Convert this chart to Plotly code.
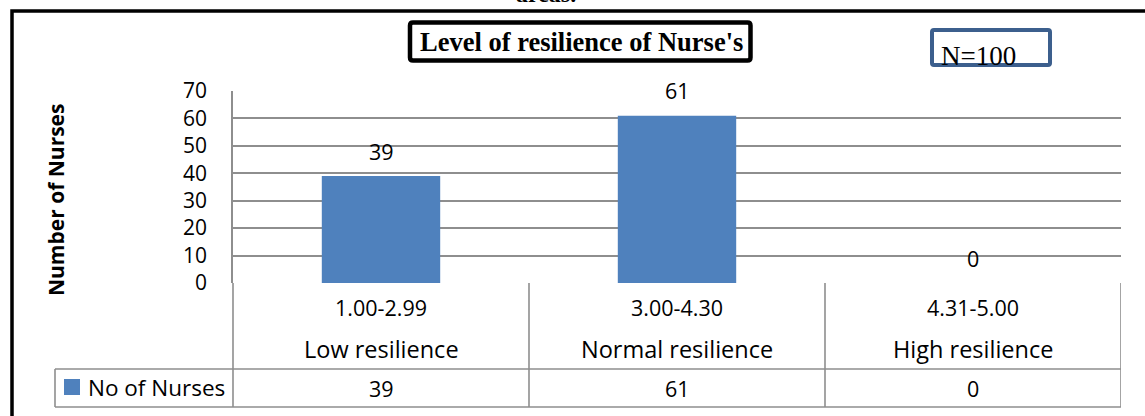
import plotly.graph_objects as go

# ---- data ----
range_labels = ["1.00-2.99", "3.00-4.30", "4.31-5.00"]
level_names = ["Low resilience", "Normal resilience", "High resilience"]
nurses = [39, 61, 0]
series_name = "No of Nurses"
y_ticks = [0, 10, 20, 30, 40, 50, 60, 70]
chart_title = "Level of resilience of Nurse's"
sample_note = "N=100"
caption_tail = "areas."
y_title = "Number of Nurses"

# ---- layout geometry (pixels) ----
W, H = 1145, 416
L, R, T, B = 233, 1121, 91, 283
PW, PH = R - L, B - T

def px(x):
    return (x - L) / PW

def py(y):
    return (B - y) / PH

BAR_BLUE = "#4f81bd"
GRID = "#8e8e8e"
SANS = "Open Sans"
SERIF = "Liberation Serif"

xs = list(range(len(nurses)))

fig = go.Figure()
fig.add_trace(go.Bar(
    x=xs, y=nurses, width=0.4, marker=dict(color=BAR_BLUE, line=dict(width=0)),
    name=series_name, hoverinfo="skip", showlegend=False,
))

shapes = []
annotations = []

def line(x0, y0, x1, y1, color=GRID, width=1.6, xref="paper"):
    shapes.append(dict(type="line", xref=xref, yref="paper", x0=x0, y0=y0, x1=x1, y1=y1,
                       line=dict(color=color, width=width), layer="above"))

def note(text, x, y, size, family=SANS, xref="paper", yref="paper", xanchor="center",
         yanchor="middle", **kw):
    annotations.append(dict(x=x, y=y, xref=xref, yref=yref, xanchor=xanchor, yanchor=yanchor,
                            text=text, showarrow=False,
                            font=dict(family=family, size=size, color="#000"), **kw))

# table lines
line(px(55), py(369), px(R), py(369))
line(px(55), py(407), px(R), py(407))
line(px(55), py(369), px(55), py(407))
line(px(L), py(B), px(L), py(407))
for i in xs:
    line(i + 0.5, py(B), i + 0.5, py(407), xref="x")

# table texts and data labels
for i in xs:
    note(range_labels[i], i, py(307), 21.5, xref="x")
    note(level_names[i], i, py(349), 23.5, xref="x")
    note(str(nurses[i]), i, py(388), 21.5, xref="x")
    note(str(nurses[i]), i, nurses[i], 21.5, xref="x", yref="y", yshift=25)

# legend key in the table
shapes.append(dict(type="rect", xref="paper", yref="paper", x0=px(64), x1=px(80), y0=py(379), y1=py(395),
                   fillcolor=BAR_BLUE, line=dict(width=0), layer="above"))
note(series_name, px(86), py(387), 22.5, xanchor="left")

# y-axis title
note("<b>" + y_title + "</b>", px(56), py(200), 21, textangle=-90)

# outer frame
shapes.append(dict(type="rect", xref="paper", yref="paper", x0=px(12), y0=py(11), x1=px(1180), y1=py(450),
                   line=dict(color="#000", width=3.5), layer="above"))

def rounded_rect(x0, y0, x1, y1, r):
    pts = [
        ("M", [(x0 + r, y0)]), ("L", [(x1 - r, y0)]), ("Q", [(x1, y0), (x1, y0 + r)]),
        ("L", [(x1, y1 - r)]), ("Q", [(x1, y1), (x1 - r, y1)]), ("L", [(x0 + r, y1)]),
        ("Q", [(x0, y1), (x0, y1 - r)]), ("L", [(x0, y0 + r)]), ("Q", [(x0, y0), (x0 + r, y0)]),
    ]
    s = ""
    for cmd, ps in pts:
        s += cmd + " " + " ".join(f"{px(a):.5f},{py(b):.5f}" for a, b in ps) + " "
    return s + "Z"

# title box
shapes.append(dict(type="path", xref="paper", yref="paper", path=rounded_rect(410, 22.5, 750.5, 60.5, 3),
                   line=dict(color="#000", width=4.5), fillcolor="white", layer="below"))
note("<b>" + chart_title + "</b>", px(581), py(42), 26.5, family=SERIF)

# N box
shapes.append(dict(type="path", xref="paper", yref="paper", path=rounded_rect(932, 30, 1050, 65, 2),
                   line=dict(color="#3c5f8d", width=4), fillcolor="rgba(0,0,0,0)", layer="above"))
note(sample_note, px(978), py(56), 27, family=SERIF)

# cut-off caption at top
note("<b>" + caption_tail + "</b>", px(546), py(-6), 24, family=SERIF)

fig.update_layout(
    width=W, height=H,
    margin=dict(l=L, r=W - R, t=T, b=H - B, pad=0),
    paper_bgcolor="white", plot_bgcolor="white",
    showlegend=False,
    shapes=shapes, annotations=annotations,
    xaxis=dict(range=[-0.5, len(nurses) - 0.5], showticklabels=False, showgrid=False,
               zeroline=False, showline=False, fixedrange=True),
    yaxis=dict(range=[0, 70], tickvals=y_ticks, showgrid=True, gridcolor=GRID, gridwidth=1.6,
               zeroline=False, showline=True, linecolor=GRID, linewidth=1.6,
               ticks="", ticklabelstandoff=20,
               tickfont=dict(family=SANS, size=21, color="#000"), fixedrange=True),
)

fig.write_html("out.html", config={"displayModeBar": False},
               post_script="document.body.style.margin='0';document.body.style.overflow='hidden';")
